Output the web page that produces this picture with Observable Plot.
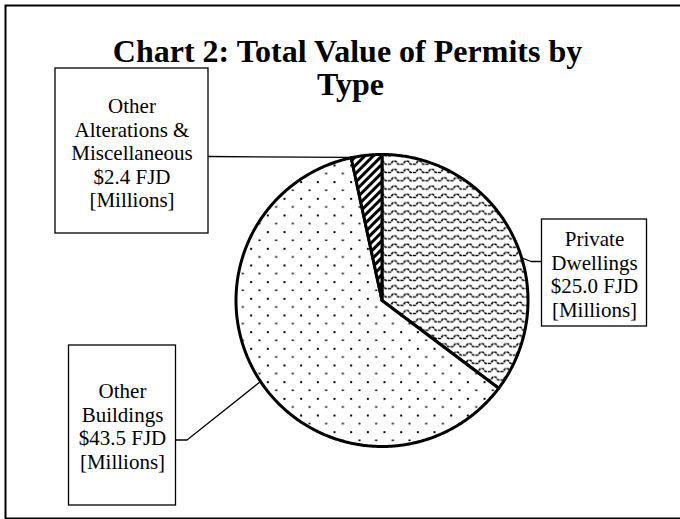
<!DOCTYPE html>
<html><head><meta charset="utf-8">
<script src="https://cdn.jsdelivr.net/npm/d3@7"></script>
<script src="https://cdn.jsdelivr.net/npm/@observablehq/plot@0.6"></script>
<style>body{margin:0;background:#fff} svg{display:block}</style>
</head><body><div id="chart"></div>
<script>
// ---- data ----
const categories = ["Private Dwellings", "Other Buildings", "Other Alterations & Miscellaneous"];
const values = [25.0, 43.5, 2.4];
const labelLines = [["Private", "Dwellings"], ["Other", "Buildings"], ["Other", "Alterations &", "Miscellaneous"]];
const unitText = "FJD";
const scaleText = "[Millions]";
const titleLines = ["Chart 2: Total Value of Permits by", "Type"];

// ---- layout ----
const W = 680, H = 519;
const pie = {cx: 381.5, cy: 300, r: 146};
const patternIds = ["pat-waves", "pat-dots", "pat-hatch"];
const boxLayout = [
  {x1: 541.5, x2: 646.5, y1: 219, y2: 326, tx: 594, ty: 229, angle: 73, elbow: [530.5, 261], anchor: [541.5, 261]},
  {x1: 68.5, x2: 175.5, y1: 345, y2: 505, tx: 122, ty: 381, angle: 236.3, elbow: [186.5, 439.5], anchor: [175.5, 439.5]},
  {x1: 55, x2: 208, y1: 68, y2: 233, tx: 131.5, ty: 96, angle: 348.5, elbow: null, anchor: [208, 156]}
];
const titleLayout = [{x: 347, y: 51}, {x: 350, y: 84}];

const data = categories.map((c, i) => ({category: c, value: values[i], i}));
const arcs = d3.pie().sort(null).value(d => d.value)(data);
const pt = (t, r = pie.r) => ({x: pie.cx + r * Math.sin(t), y: pie.cy - r * Math.cos(t)});

const slices = arcs.map(a => {
  const n = Math.max(4, Math.ceil((a.endAngle - a.startAngle) / 0.01));
  const pts = [{x: pie.cx, y: pie.cy}];
  for (let k = 0; k <= n; k++) pts.push(pt(a.startAngle + (a.endAngle - a.startAngle) * k / n));
  pts.push({x: pie.cx, y: pie.cy});
  return pts;
});

const labels = data.map((d, i) => ({
  ...boxLayout[i],
  text: [...labelLines[i], `$${d.value.toFixed(1)} ${unitText}`, scaleText].join("\n")
}));

const leaders = labels.map(b => {
  const p0 = pt(b.angle * Math.PI / 180);
  const pts = [p0];
  if (b.elbow) pts.push({x: b.elbow[0], y: b.elbow[1]});
  pts.push({x: b.anchor[0], y: b.anchor[1]});
  return pts;
});

const titles = titleLines.map((t, i) => ({text: t, ...titleLayout[i]}));

const chart = Plot.plot({
  width: W, height: H,
  margin: 0,
  x: {domain: [0, W], range: [0, W], axis: null},
  y: {domain: [0, H], range: [0, H], axis: null},
  style: {background: "#fff", fontFamily: "Liberation Serif"},
  marks: [
    Plot.frame({stroke: "black", strokeWidth: 2, insetLeft: 5, insetTop: 5, insetBottom: 1, insetRight: -6}),
    ...slices.map((s, i) => Plot.line(s, {x: "x", y: "y", fill: `url(#${patternIds[i]})`, stroke: "black", strokeWidth: 3, strokeLinejoin: "round"})),
    ...leaders.map(l => Plot.line(l, {x: "x", y: "y", stroke: "black", strokeWidth: 1.3})),
    Plot.rect(labels, {x1: "x1", x2: "x2", y1: "y1", y2: "y2", fill: "white", stroke: "black", strokeWidth: 1.3}),
    Plot.text(labels, {x: "tx", y: "ty", text: "text", fontSize: 21, lineHeight: 1.12, lineAnchor: "top", textAnchor: "middle", fill: "black", fontFamily: "Liberation Serif"}),
    Plot.text(titles, {x: "x", y: "y", text: "text", fontSize: 32, fontWeight: "bold", fill: "black", fontFamily: "Liberation Serif"})
  ]
});

// pattern definitions
const defs = d3.select(chart).insert("defs", ":first-child");
const pw = defs.append("pattern").attr("id", "pat-waves").attr("patternUnits", "userSpaceOnUse")
  .attr("width", 12.5).attr("height", 8.3);
pw.append("rect").attr("width", 12.5).attr("height", 8.3).attr("fill", "white");
pw.append("path").attr("d", "M0,6 L2.5,6 L4.8,3 L7.7,3 L10,6 L12.5,6").attr("fill", "none")
  .attr("stroke", "black").attr("stroke-width", 1.6).attr("stroke-dasharray", "3 0.8");

const pd = defs.append("pattern").attr("id", "pat-dots").attr("patternUnits", "userSpaceOnUse")
  .attr("x", 283).attr("y", 314).attr("width", 16.67).attr("height", 16.67);
pd.append("rect").attr("width", 16.67).attr("height", 16.67).attr("fill", "white");
pd.append("rect").attr("x", 0).attr("y", 0).attr("width", 2).attr("height", 2).attr("fill", "black");
pd.append("rect").attr("x", 8.33).attr("y", 8.33).attr("width", 2).attr("height", 1.6).attr("fill", "black");

const ph = defs.append("pattern").attr("id", "pat-hatch").attr("patternUnits", "userSpaceOnUse")
  .attr("width", 6).attr("height", 6).attr("patternTransform", "rotate(45)");
ph.append("rect").attr("width", 6).attr("height", 6).attr("fill", "white");
ph.append("rect").attr("x", 0).attr("width", 3).attr("height", 6).attr("fill", "black");

document.getElementById("chart").appendChild(chart);
</script>
</body></html>
